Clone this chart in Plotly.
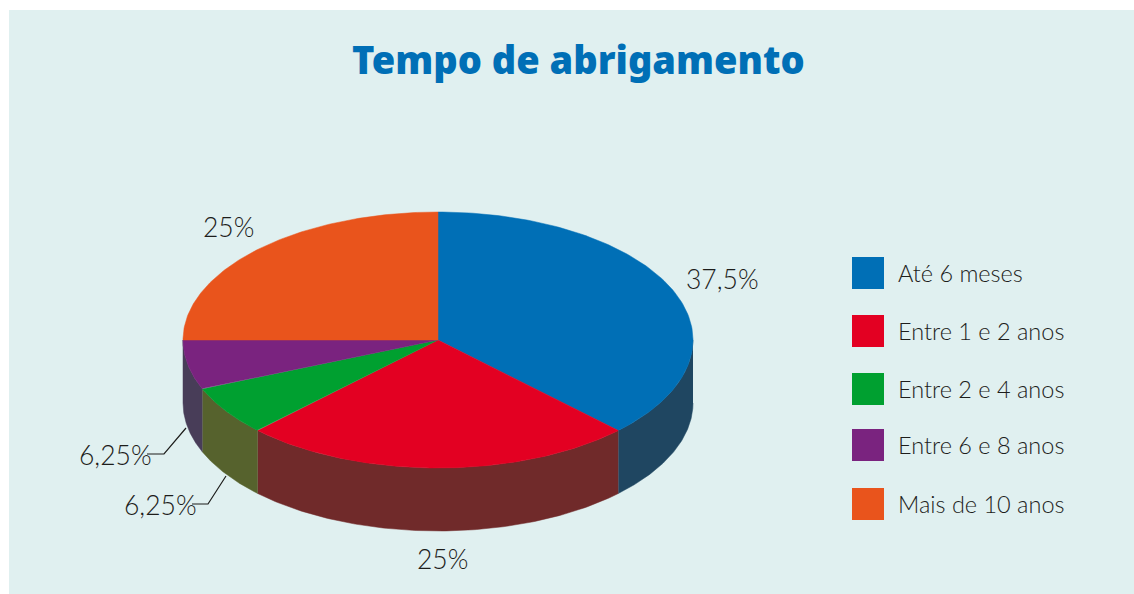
import numpy as np
import plotly.graph_objects as go

categories = ["Até 6 meses", "Entre 1 e 2 anos", "Entre 2 e 4 anos", "Entre 6 e 8 anos", "Mais de 10 anos"]
values = [37.5, 25, 6.25, 6.25, 25]
value_labels = ["37,5%", "25%", "6,25%", "6,25%", "25%"]
top_colors = ["#006FB6", "#E30022", "#00A030", "#7A237F", "#E9541C"]
side_colors = ["#1F4661", "#702A2A", "#56622D", "#483D58", "#E9541C"]
title = "Tempo de abrigamento"

CX, CY, RX, RY, DEPTH = 438, 340, 255, 128, 63
BG = "#E0F0F0"
LABEL_FONT = "Lato Light, Lato, sans-serif"
INK = "#1d1d1b"


def arc(a0, a1, n=120, dy=0.0):
    t = np.radians(np.linspace(a0, a1, n))
    return CX + RX * np.sin(t), CY - RY * np.cos(t) + dy


fig = go.Figure()
edges = np.concatenate([[0], np.cumsum(values)]) * 3.6

# side walls: only the front half of the disc (90 to 270 degrees) is visible
for i, col in enumerate(side_colors):
    a0, a1 = max(edges[i], 90), min(edges[i + 1], 270)
    if a1 <= a0:
        continue
    xt, yt = arc(a0, a1)
    xb, yb = arc(a1, a0, dy=DEPTH)
    fig.add_trace(go.Scatter(x=np.r_[xt, xb], y=np.r_[yt, yb], mode="lines", fill="toself",
                             fillcolor=col, line=dict(color=col, width=0.5),
                             hoverinfo="skip", showlegend=False))

# top face
for i, col in enumerate(top_colors):
    xt, yt = arc(edges[i], edges[i + 1])
    fig.add_trace(go.Scatter(x=np.r_[CX, xt, CX], y=np.r_[CY, yt, CY], mode="lines", fill="toself",
                             fillcolor=col, line=dict(color=col, width=0.5),
                             name=categories[i], hoverinfo="name", showlegend=False))

# leader lines for the two small slices
for lx, ly in [((186, 164, 147), (428, 454, 454)), ((226, 208, 192), (476, 504, 504))]:
    fig.add_trace(go.Scatter(x=lx, y=ly, mode="lines", line=dict(color=INK, width=1.2),
                             hoverinfo="skip", showlegend=False))

# legend swatches
legend_y = [273, 331, 389, 445, 504]
fig.add_trace(go.Scatter(x=[868] * 5, y=legend_y, mode="markers",
                         marker=dict(symbol="square", size=32, color=top_colors, line=dict(width=0)),
                         hoverinfo="skip", showlegend=False))

annotations = []
for cat, y in zip(categories, legend_y):
    annotations.append(dict(x=896, y=y, text=cat, xref="x", yref="y", xanchor="left", yanchor="middle",
                            showarrow=False, font=dict(family=LABEL_FONT, size=23.5, color=INK)))
label_pos = [(722, 279), (442, 559), (160, 505), (115, 455), (228, 227)]
for txt, (x, y) in zip(value_labels, label_pos):
    annotations.append(dict(x=x, y=y, text=txt, xref="x", yref="y", xanchor="center", yanchor="middle",
                            showarrow=False, font=dict(family=LABEL_FONT, size=26.5, color=INK)))
annotations.append(dict(x=578, y=59, text=title, xref="x", yref="y", xanchor="center", yanchor="middle",
                        showarrow=False, font=dict(family="Noto Sans", size=38, weight=900, color="#006FB6")))

fig.update_layout(
    width=1134, height=594, margin=dict(l=0, r=0, t=0, b=0),
    paper_bgcolor="white", plot_bgcolor="white",
    xaxis=dict(range=[0, 1134], visible=False, fixedrange=True),
    yaxis=dict(range=[594, 0], visible=False, fixedrange=True),
    annotations=annotations,
    shapes=[dict(type="rect", xref="x", yref="y", x0=9, y0=10, x1=1134, y1=594,
                 fillcolor=BG, line=dict(width=0), layer="below")],
)
fig.write_html("out.html", config={"displayModeBar": False},
               post_script="document.body.style.margin='0';document.body.style.overflow='hidden';")
